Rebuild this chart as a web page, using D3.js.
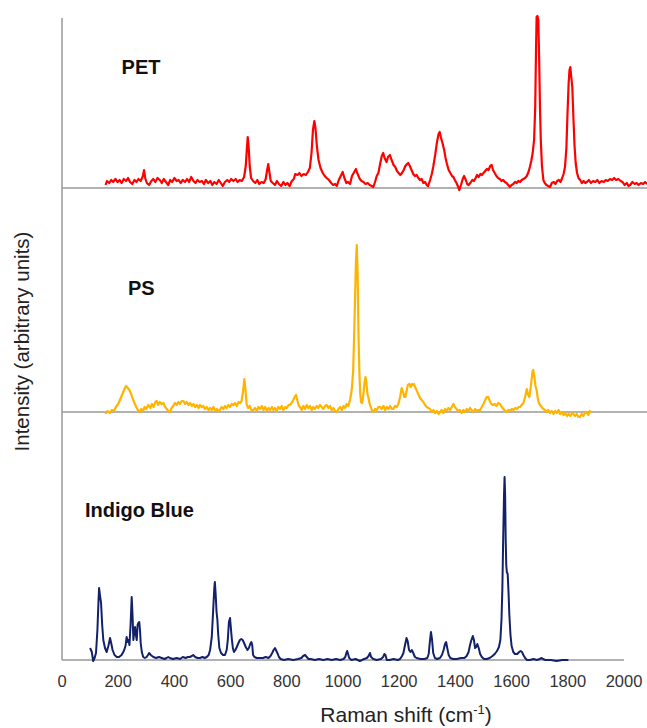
<!DOCTYPE html>
<html>
<head>
<meta charset="utf-8">
<script src="https://d3js.org/d3.v7.min.js"></script>
<style>
  body { margin: 0; background: #fff; }
  text { font-family: Arial, "Liberation Sans", sans-serif; }
</style>
</head>
<body>
<div id="my_dataviz"></div>
<script>
// x axis ticks (Raman shift, cm-1)
var xTicks = [0, 200, 400, 600, 800, 1000, 1200, 1400, 1600, 1800, 2000];

// vertical offsets of each spectrum (arbitrary units)
var offsets = { indigo: 0, ps: 248, pet: 472 };

// spectra: [shift, intensity above own baseline]
var petSpectrum = [
  [155,3],[160,7],[168,5],[175,8],[182,6],[190,9],[198,6],[205,8],[212,5],[220,9],[228,7],[235,10],[242,6],[250,4],[258,8],[265,6],[272,9],[280,7],[288,12],[292,18],[296,10],[302,5],[310,3],[318,7],[325,9],[332,6],[340,10],[348,8],[355,5],[362,9],[370,6],[378,3],[385,8],[392,6],[400,10],[408,7],[415,8],[422,5],[430,8],[438,6],[445,9],[452,6],[460,11],[468,7],[475,5],[482,8],[490,6],[498,7],[505,4],[512,8],[520,5],[528,7],[535,3],[542,6],[550,4],[558,8],[565,5],[572,2],[580,6],[588,8],[595,6],[602,9],[610,7],[618,9],[625,6],[632,8],[640,7],[648,11],[654,22],[658,40],[661,51],[664,42],[668,22],[673,10],[680,7],[688,5],[695,8],[702,4],[710,6],[718,5],[725,9],[730,18],[734,24],[738,16],[743,7],[750,5],[758,3],[765,7],[772,4],[780,2],[788,6],[795,3],[802,5],[810,2],[818,7],[825,9],[830,14],[838,13],[845,15],[852,12],[860,14],[868,13],[875,16],[882,20],[888,35],[893,58],[898,67],[902,60],[907,42],[913,28],[920,20],[928,15],[935,12],[942,10],[950,8],[958,5],[965,3],[972,4],[978,2],[985,8],[992,12],[999,16],[1005,10],[1012,5],[1018,6],[1025,4],[1032,12],[1040,16],[1046,19],[1052,14],[1060,9],[1066,7],[1073,6],[1080,4],[1088,5],[1095,3],[1102,2],[1108,1],[1114,6],[1120,12],[1126,15],[1132,24],[1138,32],[1143,35],[1148,30],[1155,26],[1160,31],[1167,33],[1173,28],[1180,23],[1186,21],[1192,17],[1198,15],[1204,13],[1210,15],[1216,18],[1222,22],[1228,24],[1232,25],[1238,22],[1244,18],[1250,14],[1256,12],[1262,13],[1268,10],[1274,8],[1280,9],[1286,5],[1292,6],[1298,3],[1303,2],[1310,8],[1316,14],[1321,21],[1328,33],[1334,45],[1340,54],[1344,56],[1349,50],[1355,44],[1360,38],[1365,30],[1370,24],[1376,18],[1382,15],[1388,12],[1393,11],[1398,8],[1404,5],[1410,1],[1414,-2],[1420,3],[1426,9],[1431,12],[1437,8],[1442,4],[1447,3],[1453,5],[1460,8],[1466,7],[1472,10],[1477,13],[1483,11],[1489,14],[1494,13],[1500,15],[1506,17],[1512,19],[1518,18],[1524,22],[1529,23],[1534,18],[1540,15],[1546,12],[1552,10],[1558,9],[1564,7],[1570,8],[1576,6],[1582,5],[1588,3],[1594,1],[1600,3],[1606,4],[1612,6],[1618,5],[1624,7],[1630,6],[1636,8],[1642,9],[1648,10],[1654,12],[1660,16],[1665,21],[1670,27],[1675,35],[1680,48],[1684,80],[1687,140],[1689,171],[1692,172],[1695,168],[1698,130],[1701,80],[1704,47],[1708,22],[1713,8],[1718,5],[1724,3],[1730,2],[1737,1],[1743,5],[1750,6],[1756,4],[1762,7],[1768,8],[1774,6],[1780,10],[1785,14],[1790,21],[1795,40],[1799,75],[1803,105],[1806,118],[1809,121],[1812,112],[1816,101],[1820,70],[1824,42],[1828,25],[1833,15],[1838,10],[1844,8],[1850,5],[1856,7],[1862,5],[1868,6],[1875,8],[1882,5],[1890,7],[1898,6],[1905,8],[1912,5],[1920,7],[1928,6],[1935,8],[1942,7],[1950,9],[1958,8],[1965,10],[1972,8],[1980,9],[1988,7],[1995,6],[2002,3],[2010,5],[2016,2],[2022,3],[2030,6],[2038,4],[2045,5],[2052,3],[2060,5],[2068,4],[2075,6],[2082,4]
];

var psSpectrum = [
  [155,-2],[162,1],[170,-1],[178,2],[185,1],[192,5],[200,8],[206,12],[212,16],[218,20],[224,24],[228,26],[234,24],[240,22],[246,18],[252,13],[258,9],[264,5],[270,2],[276,0],[282,3],[288,1],[294,5],[300,3],[307,7],[314,4],[320,8],[326,5],[332,10],[337,11],[342,7],[348,10],[354,8],[361,9],[367,5],[373,3],[378,1],[384,0],[390,4],[396,6],[402,9],[408,7],[414,10],[420,8],[426,11],[432,11],[438,8],[444,10],[450,7],[456,9],[462,6],[468,8],[474,5],[480,7],[486,4],[491,7],[497,5],[503,6],[509,3],[515,5],[521,2],[527,4],[533,2],[539,5],[545,1],[551,3],[556,1],[562,2],[568,5],[574,3],[580,6],[586,4],[592,7],[598,5],[604,8],[610,7],[616,9],[622,6],[628,10],[634,9],[639,11],[644,20],[649,33],[653,22],[657,8],[662,4],[668,6],[674,2],[681,2],[687,4],[693,1],[699,5],[705,3],[711,6],[717,2],[723,5],[729,1],[735,4],[741,2],[747,5],[752,2],[758,4],[764,1],[770,5],[776,3],[782,6],[788,2],[794,5],[800,4],[806,7],[811,7],[817,9],[823,12],[828,15],[833,17],[838,11],[843,6],[847,5],[853,2],[859,6],[865,3],[871,7],[877,4],[883,6],[889,2],[894,5],[900,3],[906,6],[912,4],[918,7],[924,5],[930,3],[936,6],[942,7],[948,4],[954,6],[960,2],[966,4],[972,1],[978,0],[984,3],[990,5],[996,2],[1002,6],[1008,4],[1013,8],[1019,6],[1025,12],[1031,22],[1036,40],[1040,80],[1043,115],[1046,150],[1049,167],[1052,140],[1055,80],[1058,42],[1061,20],[1064,10],[1068,9],[1072,16],[1076,28],[1080,35],[1083,30],[1087,18],[1090,15],[1095,8],[1100,4],[1104,1],[1108,0],[1114,3],[1120,2],[1126,5],[1132,5],[1138,3],[1144,6],[1150,2],[1156,5],[1162,3],[1168,6],[1174,3],[1179,3],[1185,6],[1191,5],[1197,8],[1203,15],[1209,24],[1214,20],[1218,15],[1222,15],[1227,22],[1231,27],[1236,28],[1241,25],[1245,28],[1249,27],[1253,28],[1258,24],[1263,21],[1268,18],[1274,14],[1280,12],[1286,10],[1292,7],[1298,5],[1304,4],[1310,3],[1316,0],[1322,2],[1328,-1],[1334,1],[1340,-2],[1345,0],[1351,2],[1357,-1],[1363,3],[1369,1],[1375,4],[1381,2],[1387,5],[1393,8],[1398,5],[1404,3],[1410,1],[1416,2],[1422,-1],[1428,2],[1434,0],[1440,3],[1446,1],[1452,4],[1458,2],[1464,0],[1470,3],[1476,1],[1482,2],[1488,2],[1494,5],[1500,8],[1506,12],[1511,15],[1517,15],[1522,11],[1528,8],[1534,7],[1540,8],[1546,6],[1552,9],[1559,8],[1565,5],[1571,3],[1577,1],[1583,0],[1589,2],[1595,1],[1601,3],[1607,2],[1613,4],[1619,3],[1625,5],[1630,5],[1636,7],[1642,9],[1648,15],[1654,23],[1658,18],[1663,15],[1667,22],[1671,32],[1674,40],[1677,42],[1681,35],[1685,26],[1689,22],[1693,14],[1697,9],[1701,7],[1707,5],[1713,3],[1719,2],[1725,0],[1731,2],[1737,-1],[1743,1],[1749,-2],[1755,1],[1761,-1],[1767,2],[1773,-2],[1779,0],[1785,-3],[1791,-1],[1797,-4],[1803,-2],[1809,-4],[1815,-1],[1820,-2],[1826,-4],[1832,-2],[1838,-5],[1843,-5],[1849,-2],[1855,-4],[1861,-1],[1867,0],[1873,-3],[1878,1],[1881,-1]
];

var indigoSpectrum = [
  [100,12],[106,8],[111,-1],[116,2],[121,7],[126,30],[130,60],[132,72],[135,65],[139,57],[143,35],[147,20],[153,12],[159,8],[165,14],[171,22],[175,17],[180,10],[187,5],[195,3],[203,3],[212,5],[220,9],[226,14],[230,23],[234,18],[237,20],[240,15],[244,35],[248,63],[251,45],[254,20],[257,28],[260,33],[263,25],[266,20],[269,35],[272,37],[275,38],[278,28],[280,17],[284,8],[289,3],[295,2],[301,3],[306,5],[310,7],[316,5],[325,3],[335,2],[345,3],[355,2],[365,1],[372,2],[378,3],[384,2],[395,1],[408,2],[420,1],[430,3],[440,2],[448,3],[455,3],[462,4],[467,5],[474,3],[482,2],[491,2],[500,3],[508,2],[515,3],[522,5],[527,10],[533,23],[538,50],[542,72],[544,78],[547,65],[550,48],[553,40],[556,25],[560,12],[566,7],[573,5],[580,5],[586,10],[590,20],[594,38],[598,42],[601,32],[604,22],[608,12],[612,8],[617,10],[622,13],[628,17],[633,20],[638,21],[643,20],[648,17],[654,13],[660,10],[665,12],[670,16],[674,18],[677,15],[680,5],[685,3],[693,2],[705,2],[715,2],[725,3],[735,2],[742,4],[748,7],[753,10],[758,12],[763,9],[768,6],[772,3],[778,1],[790,0],[805,1],[823,0],[840,1],[852,2],[858,4],[865,5],[871,3],[877,1],[885,1],[900,0],[915,1],[930,0],[945,1],[960,0],[975,1],[990,0],[1002,1],[1008,3],[1012,7],[1015,9],[1018,6],[1022,2],[1030,0],[1045,1],[1060,-1],[1075,1],[1085,2],[1091,4],[1096,7],[1100,3],[1108,1],[1120,0],[1135,1],[1143,3],[1147,6],[1151,5],[1156,0],[1165,0],[1180,1],[1195,0],[1203,1],[1210,4],[1215,7],[1220,14],[1226,22],[1230,19],[1235,10],[1240,8],[1245,10],[1250,7],[1256,3],[1262,2],[1275,1],[1290,1],[1300,2],[1305,6],[1309,18],[1313,28],[1317,20],[1321,7],[1327,2],[1335,1],[1345,2],[1352,5],[1358,10],[1363,16],[1367,18],[1371,12],[1376,5],[1382,2],[1392,1],[1405,1],[1420,2],[1432,2],[1440,4],[1447,8],[1452,15],[1457,20],[1462,24],[1466,20],[1470,12],[1474,13],[1478,16],[1483,12],[1488,6],[1494,3],[1502,1],[1512,1],[1522,2],[1532,4],[1540,6],[1548,9],[1555,13],[1560,20],[1564,40],[1567,70],[1570,120],[1573,165],[1575,183],[1577,165],[1579,120],[1581,95],[1583,88],[1586,86],[1589,68],[1592,45],[1596,25],[1600,14],[1606,8],[1612,6],[1620,6],[1627,8],[1632,9],[1637,8],[1642,5],[1648,2],[1655,0],[1665,0],[1678,1],[1690,0],[1700,1],[1707,2],[1712,1],[1720,0],[1740,0],[1760,-1],[1780,0],[1802,0]
];

var width = 647, height = 728;

var svg = d3.select("#my_dataviz")
  .append("svg")
    .attr("width", width)
    .attr("height", height);

// scales
var x = d3.scaleLinear().domain([0, 2000]).range([62, 624]);
var y = d3.scaleLinear().domain([0, 642]).range([660, 18]);

// y axis line (no ticks)
svg.append("line")
  .attr("x1", x(0)).attr("x2", x(0))
  .attr("y1", y(642)).attr("y2", y(0))
  .style("stroke", "#999").style("stroke-width", 1.5);

// baselines for each spectrum
var baselines = [
  { off: offsets.pet, end: 2085 },
  { off: offsets.ps, end: 2085 },
  { off: offsets.indigo, end: 2000 }
];
svg.selectAll(".base")
  .data(baselines)
  .enter()
  .append("line")
    .attr("class", "base")
    .attr("x1", x(0))
    .attr("x2", function(d) { return x(d.end); })
    .attr("y1", function(d) { return y(d.off); })
    .attr("y2", function(d) { return y(d.off); })
    .style("stroke", "#999")
    .style("stroke-width", 1.5);

// x tick labels
svg.selectAll(".tick")
  .data(xTicks)
  .enter()
  .append("text")
    .attr("class", "tick")
    .attr("x", function(d) { return x(d); })
    .attr("y", 687)
    .attr("text-anchor", "middle")
    .style("font-size", "16.5px")
    .style("fill", "#333")
    .text(function(d) { return d; });

// spectra
var series = [
  { data: petSpectrum, off: offsets.pet, color: "#ff0000", w: 2.2 },
  { data: psSpectrum, off: offsets.ps, color: "#ffb400", w: 2.2 },
  { data: indigoSpectrum, off: offsets.indigo, color: "#12216a", w: 2 }
];
series.forEach(function(s) {
  var line = d3.line()
    .x(function(d) { return x(d[0]); })
    .y(function(d) { return y(d[1] + s.off); });
  svg.append("path")
    .datum(s.data)
    .attr("d", line)
    .style("fill", "none")
    .style("stroke", s.color)
    .style("stroke-width", s.w)
    .style("stroke-linejoin", "round");
});

// sample names
var names = [
  { label: "PET", at: 212, lift: 114 },
  { label: "PS", at: 235, lift: 117 },
  { label: "Indigo Blue", at: 82, lift: 143 }
];
var nameOffsets = [offsets.pet, offsets.ps, offsets.indigo];
svg.selectAll(".name")
  .data(names)
  .enter()
  .append("text")
    .attr("class", "name")
    .attr("x", function(d) { return x(d.at); })
    .attr("y", function(d, i) { return y(nameOffsets[i] + d.lift); })
    .style("font-size", "20px")
    .style("font-weight", "bold")
    .style("fill", "#111")
    .text(function(d) { return d.label; });

// x axis title with superscript
var xt = svg.append("text")
  .attr("x", 406)
  .attr("y", 722)
  .attr("text-anchor", "middle")
  .style("font-size", "21px")
  .style("fill", "#222");
xt.append("tspan").text("Raman shift (cm");
xt.append("tspan").attr("dy", -8).style("font-size", "13px").text("-1");
xt.append("tspan").attr("dy", 8).text(")");

// y axis title
svg.append("text")
  .attr("transform", "translate(29,341.5) rotate(-90)")
  .attr("text-anchor", "middle")
  .style("font-size", "20.5px")
  .style("fill", "#222")
  .text("Intensity (arbitrary units)");
</script>
</body>
</html>
